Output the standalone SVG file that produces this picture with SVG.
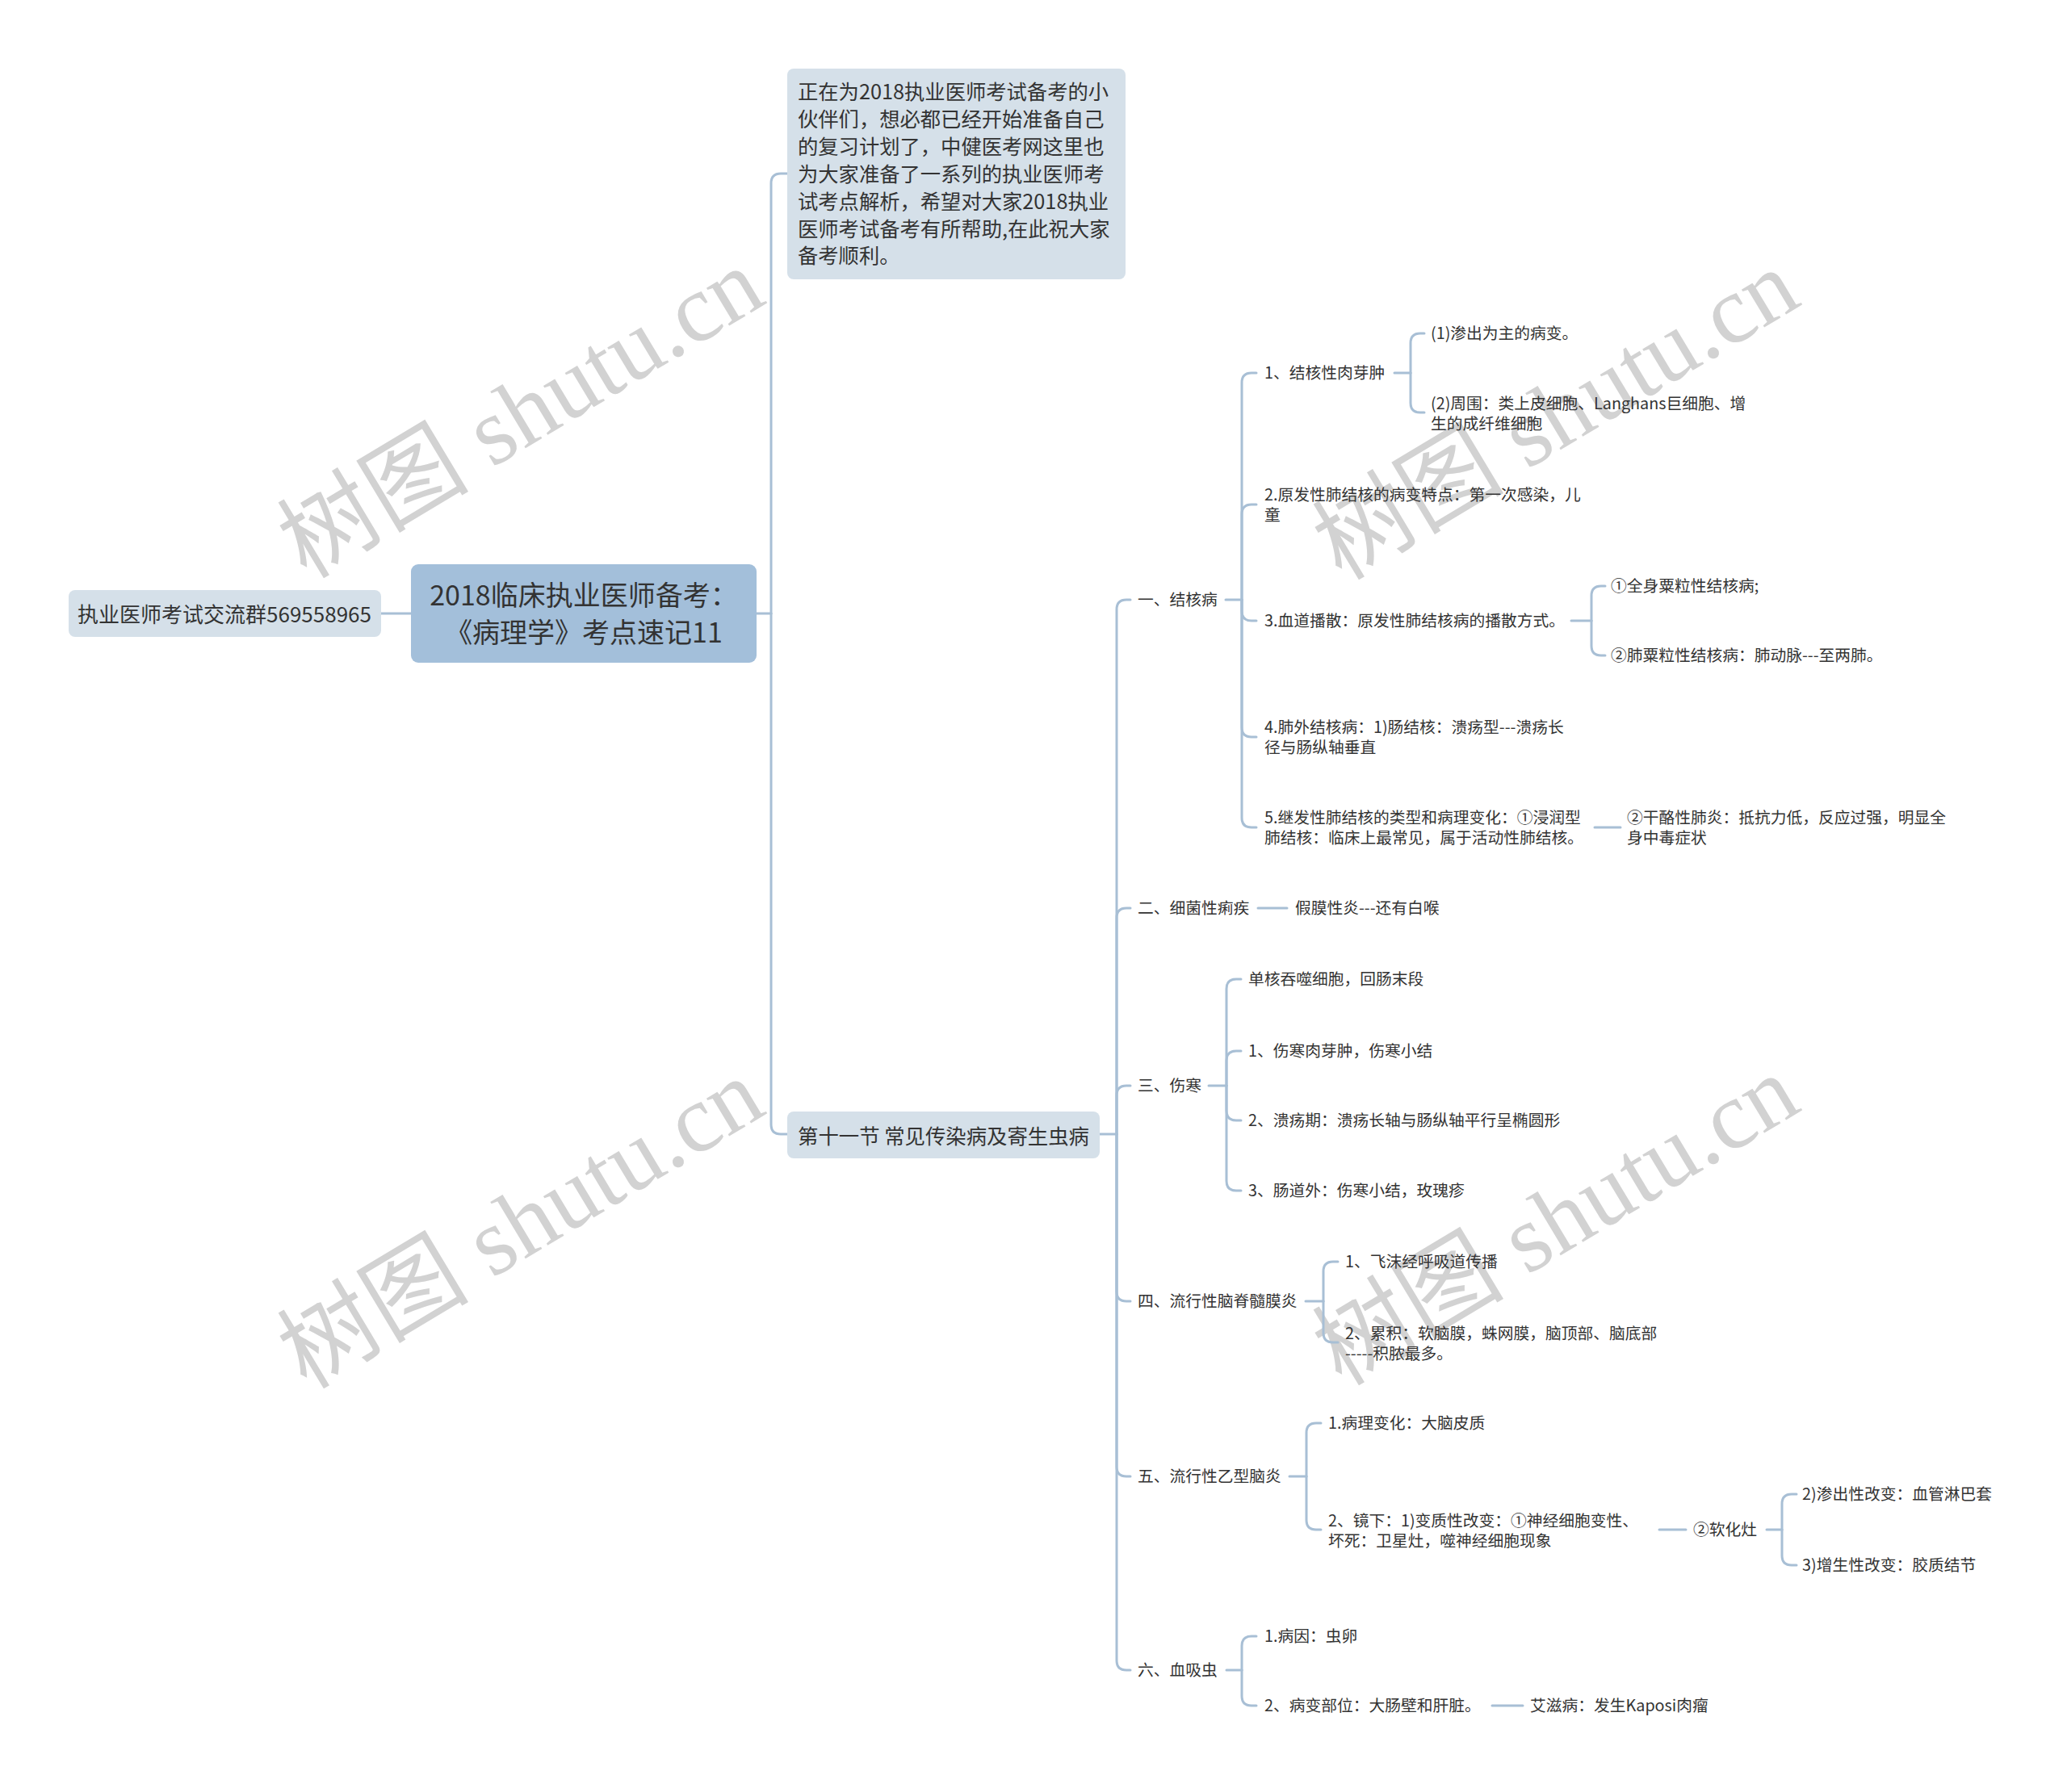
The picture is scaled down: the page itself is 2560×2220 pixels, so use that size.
<svg xmlns="http://www.w3.org/2000/svg" width="2560" height="2220" viewBox="0 0 2560 2220">
<style>
text{font-family:"Noto Sans CJK SC","Noto Sans",sans-serif;fill:#333;dominant-baseline:central}
.s{font-size:19.75px}
.wm{font-family:"Liberation Serif","Noto Sans CJK SC",serif;font-size:119px;fill:#d2d2d2;text-anchor:middle}
.c{fill:none;stroke:#a8bfd5;stroke-width:3;stroke-linecap:round}
.lb{fill:#d5e0e9}
</style>
<rect width="2560" height="2220" fill="#fff"/>
<g id="watermarks">
<text class="wm" x="645" y="512" transform="rotate(-31 645 512)">树图 shutu.cn</text>
<text class="wm" x="1927" y="514" transform="rotate(-31 1927 514)">树图 shutu.cn</text>
<text class="wm" x="645" y="1516" transform="rotate(-31 645 1516)">树图 shutu.cn</text>
<text class="wm" x="1927" y="1512" transform="rotate(-31 1927 1512)">树图 shutu.cn</text>
</g>
<g id="connectors" class="c">
<path class="c" d="M472,760 H509"/>
<path class="c" d="M937,760 H955"/>
<path class="c" d="M955,760 V227 Q955,215 967,215 H975"/>
<path class="c" d="M955,760 V1393 Q955,1405 967,1405 H975"/>
<path class="c" d="M1362,1405 H1383"/>
<path class="c" d="M1383,1405 V755 Q1383,743 1395,743 H1400"/>
<path class="c" d="M1383,1405 V1137 Q1383,1125 1395,1125 H1400"/>
<path class="c" d="M1383,1405 V1357 Q1383,1345 1395,1345 H1400"/>
<path class="c" d="M1383,1405 V1600 Q1383,1612 1395,1612 H1400"/>
<path class="c" d="M1383,1405 V1817 Q1383,1829 1395,1829 H1400"/>
<path class="c" d="M1383,1405 V2057 Q1383,2069 1395,2069 H1400"/>
<path class="c" d="M1518,743 H1538"/>
<path class="c" d="M1538,743 V474 Q1538,462 1550,462 H1556"/>
<path class="c" d="M1538,743 V637 Q1538,625 1550,625 H1556"/>
<path class="c" d="M1538,743 V757 Q1538,769 1550,769 H1556"/>
<path class="c" d="M1538,743 V901 Q1538,913 1550,913 H1556"/>
<path class="c" d="M1538,743 V1013 Q1538,1025 1550,1025 H1556"/>
<path class="c" d="M1727,462 H1747"/>
<path class="c" d="M1747,462 V425 Q1747,413 1759,413 H1764"/>
<path class="c" d="M1747,462 V499 Q1747,511 1759,511 H1764"/>
<path class="c" d="M1946,769 H1971"/>
<path class="c" d="M1971,769 V738 Q1971,726 1983,726 H1988"/>
<path class="c" d="M1971,769 V800 Q1971,812 1983,812 H1988"/>
<path class="c" d="M1975,1025 H2007"/>
<path class="c" d="M1558,1125 H1594"/>
<path class="c" d="M1497,1345 H1519"/>
<path class="c" d="M1519,1345 V1225 Q1519,1213 1531,1213 H1537"/>
<path class="c" d="M1519,1345 V1314 Q1519,1302 1531,1302 H1537"/>
<path class="c" d="M1519,1345 V1376 Q1519,1388 1531,1388 H1537"/>
<path class="c" d="M1519,1345 V1463 Q1519,1475 1531,1475 H1537"/>
<path class="c" d="M1617,1612 H1639"/>
<path class="c" d="M1639,1612 V1575 Q1639,1563 1651,1563 H1657"/>
<path class="c" d="M1639,1612 V1651 Q1639,1663 1651,1663 H1657"/>
<path class="c" d="M1597,1829 H1618"/>
<path class="c" d="M1618,1829 V1775 Q1618,1763 1630,1763 H1636"/>
<path class="c" d="M1618,1829 V1883 Q1618,1895 1630,1895 H1636"/>
<path class="c" d="M2055,1895 H2088"/>
<path class="c" d="M2188,1895 H2207"/>
<path class="c" d="M2207,1895 V1863 Q2207,1851 2219,1851 H2225"/>
<path class="c" d="M2207,1895 V1927 Q2207,1939 2219,1939 H2225"/>
<path class="c" d="M1519,2069 H1538"/>
<path class="c" d="M1538,2069 V2039 Q1538,2027 1550,2027 H1556"/>
<path class="c" d="M1538,2069 V2101 Q1538,2113 1550,2113 H1556"/>
<path class="c" d="M1848,2113 H1886"/>
</g>
<g id="root">
<rect x="509" y="699" width="428" height="122" rx="9" fill="#a3bfda"/>
<text x="723" y="735" font-size="34" text-anchor="middle">2018临床执业医师备考：</text>
<text x="723" y="781" font-size="34" text-anchor="middle">《病理学》考点速记11</text>
</g>
<g id="n-group">
<rect class="lb" x="85" y="731" width="387" height="58" rx="8"/>
<text x="278" y="759" font-size="26" text-anchor="middle">执业医师考试交流群569558965</text>
</g>
<g id="n-desc">
<rect class="lb" x="975" y="85" width="419" height="261" rx="8"/>
<text x="988" y="112" font-size="25.3"><tspan x="988">正在为2018执业医师考试备考的小</tspan><tspan x="988" dy="33.9">伙伴们，想必都已经开始准备自己</tspan><tspan x="988" dy="33.9">的复习计划了，中健医考网这里也</tspan><tspan x="988" dy="33.9">为大家准备了一系列的执业医师考</tspan><tspan x="988" dy="33.9">试考点解析，希望对大家2018执业</tspan><tspan x="988" dy="33.9">医师考试备考有所帮助,在此祝大家</tspan><tspan x="988" dy="33.9">备考顺利。</tspan></text>
</g>
<g id="n-section">
<rect class="lb" x="975" y="1377" width="387" height="58" rx="8"/>
<text x="988" y="1405" font-size="25.5" textLength="361" lengthAdjust="spacingAndGlyphs">第十一节 常见传染病及寄生虫病</text>
</g>
<g id="topics" transform="translate(0,-1.5)">
<g id="n-tb"><text class="s" x="1409" y="743">一、结核病</text></g>
<g id="n-tb1"><text class="s" x="1566" y="462">1、结核性肉芽肿</text></g>
<g id="n-tb1a"><text class="s" x="1772" y="413">(1)渗出为主的病变。</text></g>
<g id="n-tb1b"><text class="s" x="1772" y="499"><tspan x="1772">(2)周围：类上皮细胞、Langhans巨细胞、增</tspan><tspan x="1772" dy="25.5">生的成纤维细胞</tspan></text></g>
<g id="n-tb2"><text class="s" x="1566" y="612"><tspan x="1566">2.原发性肺结核的病变特点：第一次感染，儿</tspan><tspan x="1566" dy="25.5">童</tspan></text></g>
<g id="n-tb3"><text class="s" x="1566" y="769">3.血道播散：原发性肺结核病的播散方式。</text></g>
<g id="n-tb3a"><text class="s" x="1995" y="726">①全身粟粒性结核病;</text></g>
<g id="n-tb3b"><text class="s" x="1995" y="812">②肺粟粒性结核病：肺动脉---至两肺。</text></g>
<g id="n-tb4"><text class="s" x="1566" y="900"><tspan x="1566">4.肺外结核病：1)肠结核：溃疡型---溃疡长</tspan><tspan x="1566" dy="25.5">径与肠纵轴垂直</tspan></text></g>
<g id="n-tb5"><text class="s" x="1566" y="1012"><tspan x="1566">5.继发性肺结核的类型和病理变化：①浸润型</tspan><tspan x="1566" dy="25.5">肺结核：临床上最常见，属于活动性肺结核。</tspan></text></g>
<g id="n-tb5a"><text class="s" x="2015" y="1012"><tspan x="2015">②干酪性肺炎：抵抗力低，反应过强，明显全</tspan><tspan x="2015" dy="25.5">身中毒症状</tspan></text></g>
<g id="n-jj"><text class="s" x="1409" y="1125">二、细菌性痢疾</text></g>
<g id="n-jj1"><text class="s" x="1604" y="1125">假膜性炎---还有白喉</text></g>
<g id="n-sh"><text class="s" x="1409" y="1345">三、伤寒</text></g>
<g id="n-sh0"><text class="s" x="1546" y="1213">单核吞噬细胞，回肠末段</text></g>
<g id="n-sh1"><text class="s" x="1546" y="1302">1、伤寒肉芽肿，伤寒小结</text></g>
<g id="n-sh2"><text class="s" x="1546" y="1388">2、溃疡期：溃疡长轴与肠纵轴平行呈椭圆形</text></g>
<g id="n-sh3"><text class="s" x="1546" y="1475">3、肠道外：伤寒小结，玫瑰疹</text></g>
<g id="n-ln"><text class="s" x="1409" y="1612">四、流行性脑脊髓膜炎</text></g>
<g id="n-ln1"><text class="s" x="1666" y="1563">1、飞沫经呼吸道传播</text></g>
<g id="n-ln2"><text class="s" x="1666" y="1651"><tspan x="1666">2、累积：软脑膜，蛛网膜，脑顶部、脑底部</tspan><tspan x="1666" dy="25.5">-----积脓最多。</tspan></text></g>
<g id="n-yn"><text class="s" x="1409" y="1829">五、流行性乙型脑炎</text></g>
<g id="n-yn1"><text class="s" x="1645" y="1763">1.病理变化：大脑皮质</text></g>
<g id="n-yn2"><text class="s" x="1645" y="1883"><tspan x="1645">2、镜下：1)变质性改变：①神经细胞变性、</tspan><tspan x="1645" dy="25.5">坏死：卫星灶，噬神经细胞现象</tspan></text></g>
<g id="n-yn3"><text class="s" x="2097" y="1895">②软化灶</text></g>
<g id="n-yn3a"><text class="s" x="2232" y="1851">2)渗出性改变：血管淋巴套</text></g>
<g id="n-yn3b"><text class="s" x="2232" y="1939">3)增生性改变：胶质结节</text></g>
<g id="n-xx"><text class="s" x="1409" y="2069">六、血吸虫</text></g>
<g id="n-xx1"><text class="s" x="1566" y="2027">1.病因：虫卵</text></g>
<g id="n-xx2"><text class="s" x="1566" y="2113">2、病变部位：大肠壁和肝脏。</text></g>
<g id="n-xx2a"><text class="s" x="1895" y="2113">艾滋病：发生Kaposi肉瘤</text></g>
</g>
</svg>
